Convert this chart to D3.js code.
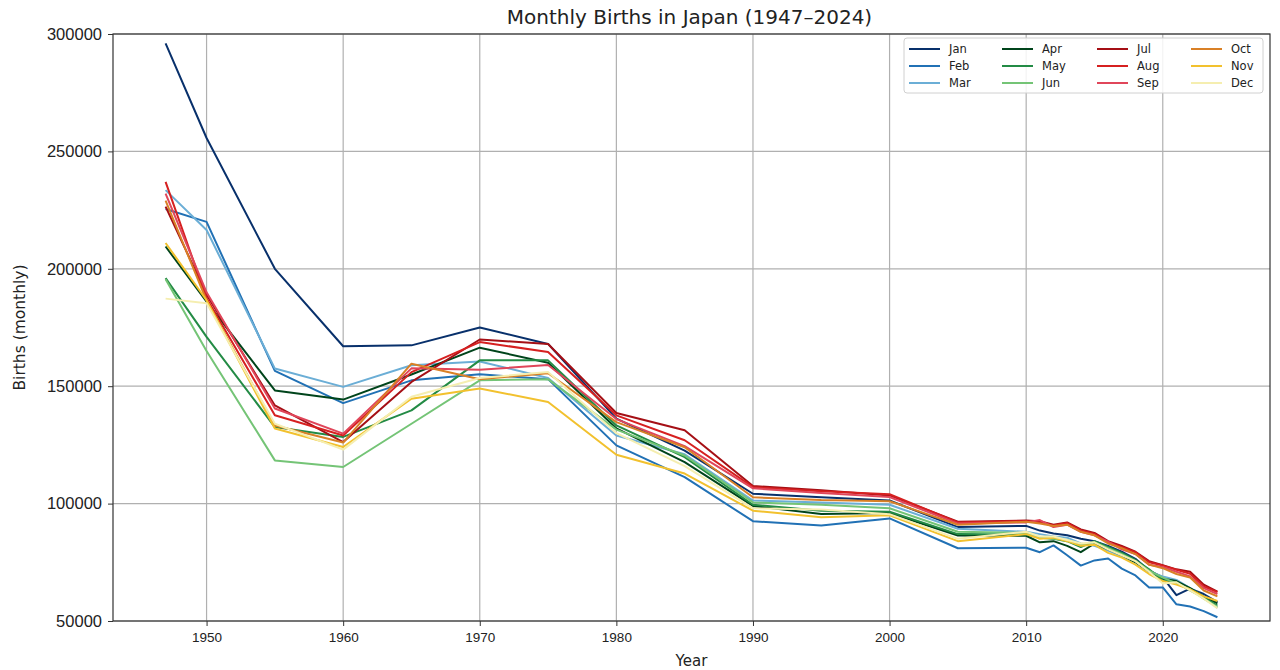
<!DOCTYPE html>
<html>
<head>
<meta charset="utf-8">
<script src="https://cdn.jsdelivr.net/npm/d3@7"></script>
<style>
  body { margin: 0; background: #fff; }
  svg { font-family: "DejaVu Sans", sans-serif; }
</style>
</head>
<body>
<svg id="chart" width="1280" height="670"></svg>
<script>
// data
const years = [1947, 1950, 1955, 1960, 1965, 1970, 1975, 1980, 1985, 1990, 1995, 2000, 2005,
  2010, 2011, 2012, 2013, 2014, 2015, 2016, 2017, 2018, 2019, 2020, 2021, 2022, 2023, 2024];

const months = ["Jan", "Feb", "Mar", "Apr", "May", "Jun", "Jul", "Aug", "Sep", "Oct", "Nov", "Dec"];

const colors = ["#08306b", "#2171b5", "#6baed6", "#00441b", "#238b45", "#74c476",
  "#a50f15", "#d62020", "#e0465a", "#d98026", "#f2c12e", "#f5eeb0"];

const jan = [296000, 255700, 200000, 167000, 167400, 175000, 168000, 136200, 122600, 104200, 102700, 101300, 90000,
  90500, 88500, 87300, 86500, 85000, 84000, 82000, 79500, 76500, 71500, 68600, 61000, 63800, 61500, 58000];
const feb = [225500, 220000, 156500, 142800, 152500, 155100, 153000, 124800, 111300, 92500, 90700, 93700, 81000,
  81200, 79300, 82200, 78000, 73600, 75800, 76600, 72300, 69400, 64300, 64300, 57100, 56200, 54200, 51600];
const mar = [233500, 216500, 157500, 149700, 158900, 160500, 153500, 129000, 121000, 101300, 100500, 99500, 89300,
  88000, 87000, 86000, 85500, 83000, 82000, 80000, 77500, 75000, 71000, 69000, 67500, 64000, 60500, 55500];
const apr = [209500, 186000, 148200, 144300, 155000, 166400, 160000, 132000, 117700, 99000, 95600, 96000, 86400,
  86300, 83500, 84000, 82000, 79300, 83000, 80500, 78000, 75000, 71000, 68000, 67000, 64000, 60500, 57500];
const may = [196000, 171000, 132600, 128400, 139700, 161000, 161000, 133300, 119800, 99500, 97000, 96500, 87000,
  86800, 85500, 85000, 84000, 81500, 84000, 81500, 79000, 76000, 72000, 67200, 66500, 63000, 60000, 56600];
const jun = [195500, 165000, 118400, 115600, 134000, 152500, 153000, 131500, 120500, 100500, 99500, 98000, 88000,
  87500, 85800, 85000, 84500, 82500, 83500, 81000, 78500, 75500, 71500, 68500, 66000, 63500, 59500, 56000];
const jul = [226500, 189000, 141800, 126200, 151800, 169900, 168000, 138600, 131200, 107500, 105700, 103500, 92300,
  92800, 92500, 91000, 92000, 89000, 87500, 84000, 82000, 79500, 75500, 73800, 72000, 71000, 65500, 62500];
const aug = [237000, 187500, 137600, 129000, 156000, 168800, 164600, 137600, 127000, 107000, 105300, 104000, 92000,
  92600, 92000, 90700, 91700, 88600, 87100, 83600, 81400, 79300, 75000, 73600, 71800, 70100, 64700, 62300];
const sep = [232000, 190000, 140500, 129800, 157600, 157000, 159000, 136000, 124500, 106500, 104500, 102800, 91500,
  92000, 93000, 90000, 91000, 88000, 86500, 83800, 80500, 78500, 74000, 73000, 71000, 69000, 64000, 61500];
const oct = [229000, 186500, 133300, 126000, 159600, 153000, 155500, 134700, 124000, 102700, 101500, 101000, 91000,
  92300, 91500, 90500, 91000, 88000, 86500, 83000, 81000, 78500, 74000, 72500, 70000, 68500, 63000, 60500];
const nov = [211000, 186600, 132000, 124100, 144700, 149000, 143300, 120800, 112800, 97000, 94200, 95000, 84000,
  87000, 85000, 85500, 84000, 82000, 82500, 79000, 77000, 74000, 70000, 67000, 65500, 63500, 60500, 58500];
const dec = [187300, 185300, 134000, 123000, 145500, 153500, 156000, 130000, 116000, 98000, 97500, 95500, 85000,
  88000, 86000, 86000, 84500, 83000, 83500, 80500, 78000, 75500, 71000, 66000, 66500, 63000, 59500, 55500];

const monthValues = [jan, feb, mar, apr, may, jun, jul, aug, sep, oct, nov, dec];

const xTicks = [1950, 1960, 1970, 1980, 1990, 2000, 2010, 2020];
const yTicks = [50000, 100000, 150000, 200000, 250000, 300000];

const svg = d3.select("#chart");
const margin = {top: 34, right: 10, bottom: 49, left: 113};
const width = 1280 - margin.left - margin.right,
      height = 670 - margin.top - margin.bottom;

// matplotlib style 5% padding on x
const span = years[years.length - 1] - years[0];
const x = d3.scaleLinear()
  .domain([years[0] - span * 0.05, years[years.length - 1] + span * 0.05])
  .range([0, width]);
const y = d3.scaleLinear().domain([50000, 300000]).range([height, 0]);

const g = svg.append("g")
  .attr("transform", "translate(" + margin.left + "," + margin.top + ")");

// grid
g.append("g")
  .selectAll("line.vx")
  .data(xTicks)
  .join("line")
  .attr("x1", d => x(d)).attr("x2", d => x(d))
  .attr("y1", 0).attr("y2", height)
  .attr("stroke", "#b0b0b0").attr("stroke-width", 1.2);
g.append("g")
  .selectAll("line.hy")
  .data(yTicks)
  .join("line")
  .attr("x1", 0).attr("x2", width)
  .attr("y1", d => y(d)).attr("y2", d => y(d))
  .attr("stroke", "#b0b0b0").attr("stroke-width", 1.2);

// axes
const xAxis = g.append("g")
  .attr("transform", "translate(0," + height + ")")
  .call(d3.axisBottom(x).tickValues(xTicks).tickFormat(d3.format("d")).tickSize(5).tickPadding(6));
const yAxis = g.append("g")
  .call(d3.axisLeft(y).tickValues(yTicks).tickFormat(d3.format("d")).tickSize(5).tickPadding(6));

[xAxis, yAxis].forEach(a => {
  a.select(".domain").remove();
  a.selectAll("text").attr("fill", "#222");
  a.selectAll("line").attr("stroke", "#333");
});
xAxis.selectAll("text").style("font-size", "13.5px");
yAxis.selectAll("text").style("font-size", "16.5px");

// lines
const line = d3.line()
  .x((d, i) => x(years[i]))
  .y(d => y(d));

months.forEach((m, k) => {
  g.append("path")
    .datum(monthValues[k])
    .attr("fill", "none")
    .attr("stroke", colors[k])
    .attr("stroke-width", 2)
    .attr("stroke-linejoin", "round")
    .attr("d", line);
});

// frame
g.append("rect")
  .attr("width", width).attr("height", height)
  .attr("fill", "none").attr("stroke", "#333").attr("stroke-width", 1.2);

// title and labels
svg.append("text")
  .attr("x", margin.left + width / 2 - 2).attr("y", 24)
  .attr("text-anchor", "middle")
  .style("font-size", "20px")
  .attr("fill", "#222")
  .text("Monthly Births in Japan (1947–2024)");

svg.append("text")
  .attr("x", margin.left + width / 2).attr("y", 666)
  .attr("text-anchor", "middle")
  .style("font-size", "15px")
  .attr("fill", "#222")
  .text("Year");

svg.append("text")
  .attr("transform", "rotate(-90)")
  .attr("x", -(margin.top + height / 2)).attr("y", 25)
  .attr("text-anchor", "middle")
  .style("font-size", "15.5px")
  .attr("fill", "#222")
  .text("Births (monthly)");

// legend, 4 columns x 3 rows
const legend = g.append("g").attr("transform", "translate(" + (width - 366) + ",4)");
legend.append("rect")
  .attr("width", 359).attr("height", 55)
  .attr("rx", 3)
  .attr("fill", "#fff").attr("fill-opacity", 0.85)
  .attr("stroke", "#d0d0d0");

const colX = [5, 98, 193, 287];
months.forEach((m, k) => {
  const col = Math.floor(k / 3), row = k % 3;
  const item = legend.append("g")
    .attr("transform", "translate(" + colX[col] + "," + (11 + row * 17) + ")");
  item.append("line")
    .attr("x1", 0).attr("x2", 31)
    .attr("stroke", colors[k]).attr("stroke-width", 2);
  item.append("text")
    .attr("x", 40).attr("y", 4)
    .style("font-size", "11.5px")
    .attr("fill", "#222")
    .text(m);
});
</script>
</body>
</html>
